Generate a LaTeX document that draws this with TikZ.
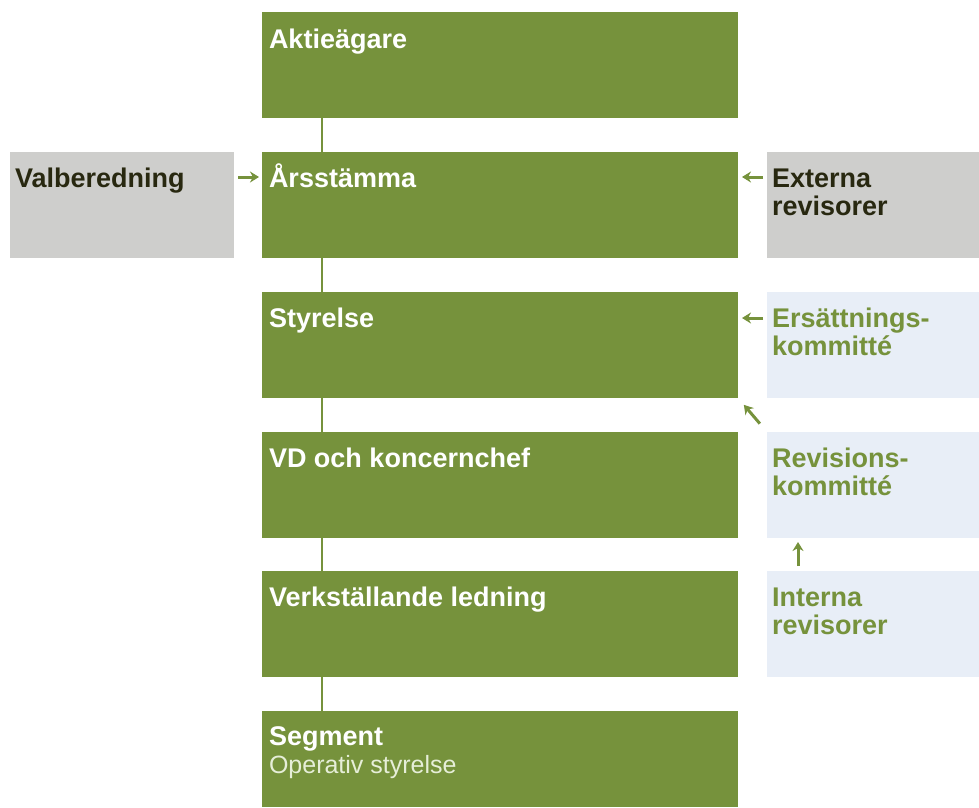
\documentclass[tikz,border=0pt]{standalone}
\usepackage{fontspec}
\setmainfont{Liberation Sans}
\usetikzlibrary{calc,arrows.meta}
\definecolor{boxgreen}{RGB}{118,146,60}
\definecolor{boxgrey}{RGB}{206,206,204}
\definecolor{boxblue}{RGB}{232,238,247}
\definecolor{txtdark}{RGB}{40,40,16}
\definecolor{txtlight}{RGB}{230,238,216}
\newcommand{\twolines}[2]{\vtop{\lineskiplimit=-20pt\hbox{#1}\hbox{#2}}}

\begin{document}
\begin{tikzpicture}
                [x=1pt, y=-1pt,
                every node/.style={inner sep=0pt, outer sep=0pt},
                gsty/.style={fill=boxgreen, anchor=north west, minimum width=476pt, minimum height=106pt},
                ssty/.style={fill=boxgrey, anchor=north west, minimum width=224pt, minimum height=106pt},
                bsty/.style={fill=boxblue, anchor=north west, minimum width=212pt, minimum height=106pt},
                tsty/.style={anchor=base west, font=\bfseries\fontsize{27}{28}\selectfont},
                lsty/.style={draw=boxgreen, line width=2.2pt},
                asty/.style={-{Stealth[length=9pt,width=11pt]}, draw=boxgreen, line width=3pt}]
                \useasboundingbox (0,0) rectangle (979,807);
                % main chain
                \node[gsty] (aktie) at (262,12) {};
                \node[gsty] (arst) at (262,152) {};
                \node[gsty] (styr) at (262,292) {};
                \node[gsty] (vd) at (262,432) {};
                \node[gsty] (ledn) at (262,571) {};
                \node[gsty, minimum height=96pt] (segm) at (262,711) {};
                \node[tsty, text=white] (aktie-t) at ($(aktie.north west)+(7,36)$) {Aktieägare};
                \node[tsty, text=white] (arst-t) at ($(arst.north west)+(7,35)$) {Årsstämma};
                \node[tsty, text=white] (styr-t) at ($(styr.north west)+(7,35)$) {Styrelse};
                \node[tsty, text=white] (vd-t) at ($(vd.north west)+(7,35)$) {VD och koncernchef};
                \node[tsty, text=white] (ledn-t) at ($(ledn.north west)+(7,35)$) {Verkställande ledning};
                \node[tsty, text=white] (segm-t) at ($(segm.north west)+(7,34)$) {\twolines{Segment}%
                  {\mdseries\fontsize{25}{28}\selectfont\color{txtlight}Operativ styrelse}};
                \foreach \a/\b in {aktie/arst, arst/styr, styr/vd, vd/ledn, ledn/segm}
                  \draw[lsty] ($(\a.south west)+(60,0)$) -- ($(\b.north west)+(60,0)$);
                % side boxes
                \node[ssty] (valb) at (10,152) {};
                \node[ssty, minimum width=212pt] (extrev) at (767,152) {};
                \node[bsty] (ersk) at (767,292) {};
                \node[bsty] (revk) at (767,432) {};
                \node[bsty] (intrev) at (767,571) {};
                \node[tsty, text=txtdark] (valb-t) at ($(valb.north west)+(5,35)$) {Valberedning};
                \node[tsty, text=txtdark] (extrev-t) at ($(extrev.north west)+(5,35)$) {\twolines{Externa}{revisorer}};
                \node[tsty, text=boxgreen] (ersk-t) at ($(ersk.north west)+(5,35)$) {\twolines{Ersättnings-}{kommitté}};
                \node[tsty, text=boxgreen] (revk-t) at ($(revk.north west)+(5,35)$) {\twolines{Revisions-}{kommitté}};
                \node[tsty, text=boxgreen] (intrev-t) at ($(intrev.north west)+(5,35)$) {\twolines{Interna}{revisorer}};
                % arrows
                \draw[asty, shorten <=4pt, shorten >=3pt] ($(valb.north east)+(0,25)$) -- ($(arst.north west)+(0,25)$);
                \draw[asty, shorten <=4pt, shorten >=4pt] ($(extrev.north west)+(0,25)$) -- ($(arst.north east)+(0,25)$);
                \draw[asty, shorten <=4pt, shorten >=4pt] ($(ersk.north west)+(0,26)$) -- ($(styr.north east)+(0,26)$);
                \draw[asty, shorten <=11pt, shorten >=9pt] (revk.north west) -- (styr.south east);
                \draw[asty, shorten <=5pt, shorten >=4pt] ($(intrev.north west)+(31,0)$) -- ($(revk.south west)+(31,0)$);
            \end{tikzpicture}
\end{document}
